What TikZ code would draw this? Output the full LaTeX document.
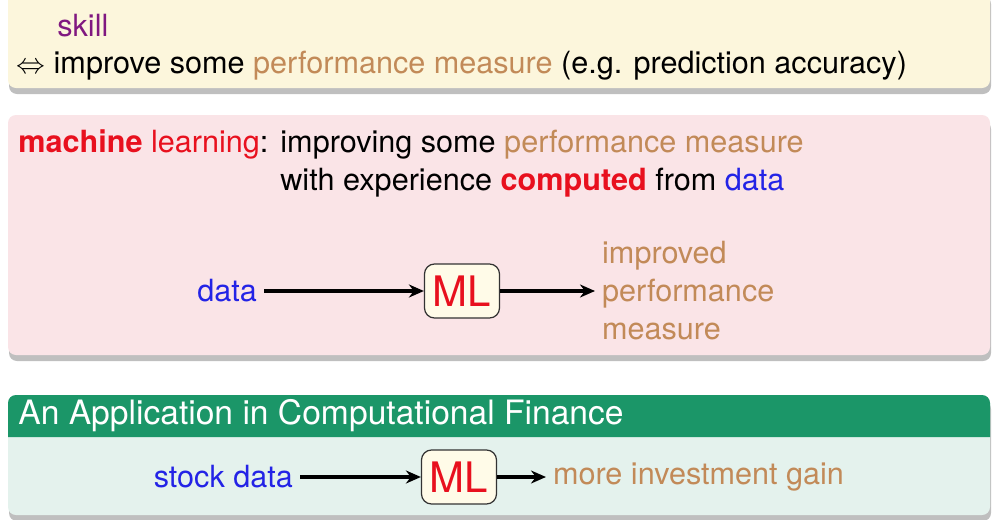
\documentclass[tikz,border=0pt]{standalone}
\usepackage{fontspec}
\setmainfont{TeX Gyre Heros}
\usetikzlibrary{arrows.meta,positioning,shadows}
\definecolor{tanbrown}{RGB}{194,138,88}
\definecolor{skillpurple}{RGB}{128,24,128}
\definecolor{mlred}{RGB}{232,16,30}
\definecolor{datablue}{RGB}{35,35,230}
\definecolor{yellowbg}{RGB}{252,246,220}
\definecolor{pinkbg}{RGB}{250,228,231}
\definecolor{headgreen}{RGB}{27,150,104}
\definecolor{bodygreen}{RGB}{228,242,237}
\definecolor{mlfill}{RGB}{255,251,232}
\newcommand\bodyfont{\fontsize{15.3pt}{19pt}\selectfont}
\newcommand\titlefont{\fontsize{16.8pt}{20pt}\selectfont}
\newcommand\mlfont{\fontsize{21pt}{24pt}\selectfont}

\begin{document}
\begin{tikzpicture}[x=0.5pt, y=-0.5pt,
    every node/.style={font=\bodyfont},
    txt/.style={anchor=base west, inner sep=0pt},
    mlbox/.style={draw=black!80, line width=0.6pt, fill=mlfill, rounded corners=5pt, minimum width=37.5pt,
      minimum height=27pt, inner sep=0pt, text=mlred, font=\mlfont},
    flow/.style={-{Stealth[length=7.5pt, width=6.5pt]}, line width=1.6pt},
    boxshadow/.style={drop shadow={shadow xshift=0.5pt, shadow yshift=-3pt, opacity=0.5}}]
    \useasboundingbox (0,0) rectangle (992,520);
    \fill[white] (0,0) rectangle (992,520);
    % boxes
    \fill[yellowbg, rounded corners=4pt, boxshadow] (8,-10) rectangle (990,88);
    \fill[pinkbg, rounded corners=4pt, boxshadow] (8,115) rectangle (990,355);
    \fill[bodygreen, rounded corners=4pt, boxshadow] (8,395) rectangle (990,515);
    \fill[headgreen] (8,437) [rounded corners=4pt] -- (8,395) -- (990,395) [sharp corners] -- (990,437) -- cycle;
    % top box
    \node[txt, skillpurple] (skill) at (57,36) {skill};
    \node[txt] (measure) at (16,73) {$\Leftrightarrow$ improve some \textcolor{tanbrown}{performance measure} (e.g. prediction accuracy)};
    % definition
    \node[txt, mlred] (mlterm) at (18,152) {\textbf{machine} learning\textcolor{black}{:}};
    \node[txt] (defone) at (280,152) {improving some \textcolor{tanbrown}{performance measure}};
    \node[txt] (deftwo) at (280,190) {with experience \textcolor{mlred}{\textbf{computed}} from \textcolor{datablue}{data}};
    \node[anchor=east, datablue] (data) at (264,291) {data};
    \node[mlbox] (ml) at (462,291) {ML};
    \node[anchor=west, align=left, tanbrown] (improved) at (595,291) {improved\\performance\\measure};
    \draw[flow] (data) -- (ml);
    \draw[flow] (ml) -- (improved);
    % application
    \node[anchor=base west, inner sep=0pt, white, font=\titlefont] (apptitle) at (18,424) {An Application in Computational Finance};
    \node[anchor=east, datablue] (stock) at (300,477) {stock data};
    \node[mlbox] (mlapp) at (459,477) {ML};
    \node[anchor=west, tanbrown] (gain) at (546,477) {more investment gain};
    \draw[flow] (stock) -- (mlapp);
    \draw[flow] (mlapp) -- (gain);
\end{tikzpicture}
\end{document}
